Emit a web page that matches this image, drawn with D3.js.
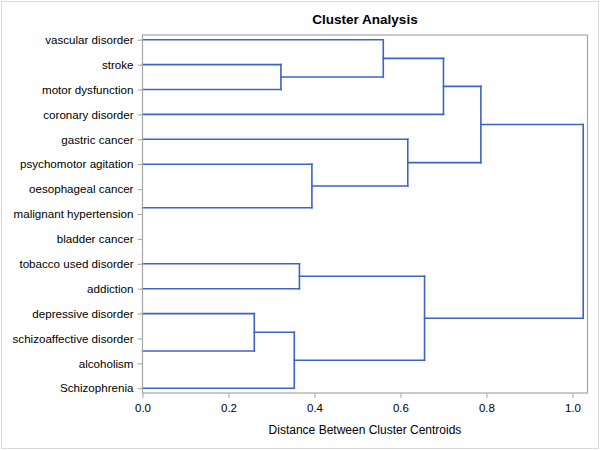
<!DOCTYPE html>
<html>
<head>
<meta charset="utf-8">
<script src="https://cdn.jsdelivr.net/npm/d3@7"></script>
<style>
  html, body { margin: 0; padding: 0; background: #fff; }
  svg { display: block; font-family: Arial, "Liberation Sans", sans-serif; }
</style>
</head>
<body>
<svg id="chart" width="600" height="450"></svg>
<script>
// ---- data ----
const leaves = [
  "vascular disorder", "stroke", "motor dysfunction", "coronary disorder",
  "gastric cancer", "psychomotor agitation", "oesophageal cancer",
  "malignant hypertension", "bladder cancer", "tobacco used disorder",
  "addiction", "depressive disorder", "schizoaffective disorder",
  "alcoholism", "Schizophrenia"
];
const clusterIds    = ["CL1","CL2","CL3","CL4","CL5","CL6","CL7","CL8","CL9","CL10","CL11","CL12","CL13","CL14"];
const clusterLeft   = ["stroke","vascular disorder","CL2","malignant hypertension","oesophageal cancer","psychomotor agitation","gastric cancer","CL3","tobacco used disorder","schizoaffective disorder","depressive disorder","CL11","CL9","CL8"];
const clusterRight  = ["motor dysfunction","CL1","coronary disorder","bladder cancer","CL4","CL5","CL6","CL7","addiction","alcoholism","CL10","Schizophrenia","CL12","CL13"];
const clusterHeight = [0.322, 0.560, 0.700, 0.000, 0.000, 0.394, 0.617, 0.787, 0.365, 0.000, 0.260, 0.353, 0.656, 1.025];
const xTicks = [0, 0.2, 0.4, 0.6, 0.8, 1.0];
const xDomainMax = 1.035;
const titleText = "Cluster Analysis";
const xTitle = "Distance Between Cluster Centroids";

// ---- layout ----
const W = 600, H = 450;
const plot = { left: 142.5, right: 587.5, top: 35, bottom: 393 };
const lineColor = "#3b63c9";
const axisColor = "#a6a6a6";

const svg = d3.select("#chart");

// outer frame
svg.append("rect").attr("x", 1.5).attr("y", 1.5).attr("width", W - 3).attr("height", H - 3)
  .attr("fill", "#fff").attr("stroke", "#d9d9d9").attr("stroke-width", 1);

const x = d3.scaleLinear().domain([0, xDomainMax]).range([plot.left, plot.right]);
const y = d3.scalePoint().domain(leaves).range([plot.top, plot.bottom]).padding(0.19);

// build node positions
const pos = {};
leaves.forEach(l => { pos[l] = { h: 0, y: y(l) }; });
const segs = [];
clusterIds.forEach((id, i) => {
  const a = pos[clusterLeft[i]], b = pos[clusterRight[i]];
  const h = clusterHeight[i];
  segs.push({ x1: a.h, y1: a.y, x2: h, y2: a.y });
  segs.push({ x1: b.h, y1: b.y, x2: h, y2: b.y });
  segs.push({ x1: h, y1: a.y, x2: h, y2: b.y });
  pos[id] = { h: h, y: (a.y + b.y) / 2 };
});
// zero-distance joins collapse onto the axis and are not drawn
const visibleSegs = segs.filter(s => s.x1 !== s.x2 || s.x1 > 0);

// dendrogram links
svg.append("g").selectAll("line").data(visibleSegs).join("line")
  .attr("x1", d => x(d.x1)).attr("x2", d => x(d.x2))
  .attr("y1", d => d.y1).attr("y2", d => d.y2)
  .attr("stroke", lineColor).attr("stroke-width", 1.6)
  .attr("stroke-linecap", "square");

// plot frame
svg.append("rect")
  .attr("x", plot.left).attr("y", plot.top)
  .attr("width", plot.right - plot.left).attr("height", plot.bottom - plot.top)
  .attr("fill", "none").attr("stroke", axisColor).attr("stroke-width", 1.2);

// y axis
const gy = svg.append("g").attr("transform", `translate(${plot.left},0)`)
  .call(d3.axisLeft(y).tickSize(5).tickPadding(4));
gy.select(".domain").remove();
gy.selectAll(".tick line").attr("stroke", axisColor);
gy.selectAll(".tick text").attr("fill", "#000").style("font-size", "11.6px")
  .style("font-family", "Arial, 'Liberation Sans', sans-serif");

// x axis
const gx = svg.append("g").attr("transform", `translate(0,${plot.bottom})`)
  .call(d3.axisBottom(x).tickValues(xTicks).tickFormat(d3.format(".1f")).tickSize(5).tickPadding(6));
gx.select(".domain").remove();
gx.selectAll(".tick line").attr("stroke", axisColor);
gx.selectAll(".tick text").attr("fill", "#000").style("font-size", "11.5px")
  .style("font-family", "Arial, 'Liberation Sans', sans-serif");

// titles
svg.append("text").attr("x", (plot.left + plot.right) / 2).attr("y", 24)
  .attr("text-anchor", "middle").style("font-size", "13.5px").style("font-weight", "bold")
  .attr("fill", "#000").text(titleText);
svg.append("text").attr("x", (plot.left + plot.right) / 2).attr("y", 434)
  .attr("text-anchor", "middle").style("font-size", "12px")
  .attr("fill", "#000").text(xTitle);
</script>
</body>
</html>
